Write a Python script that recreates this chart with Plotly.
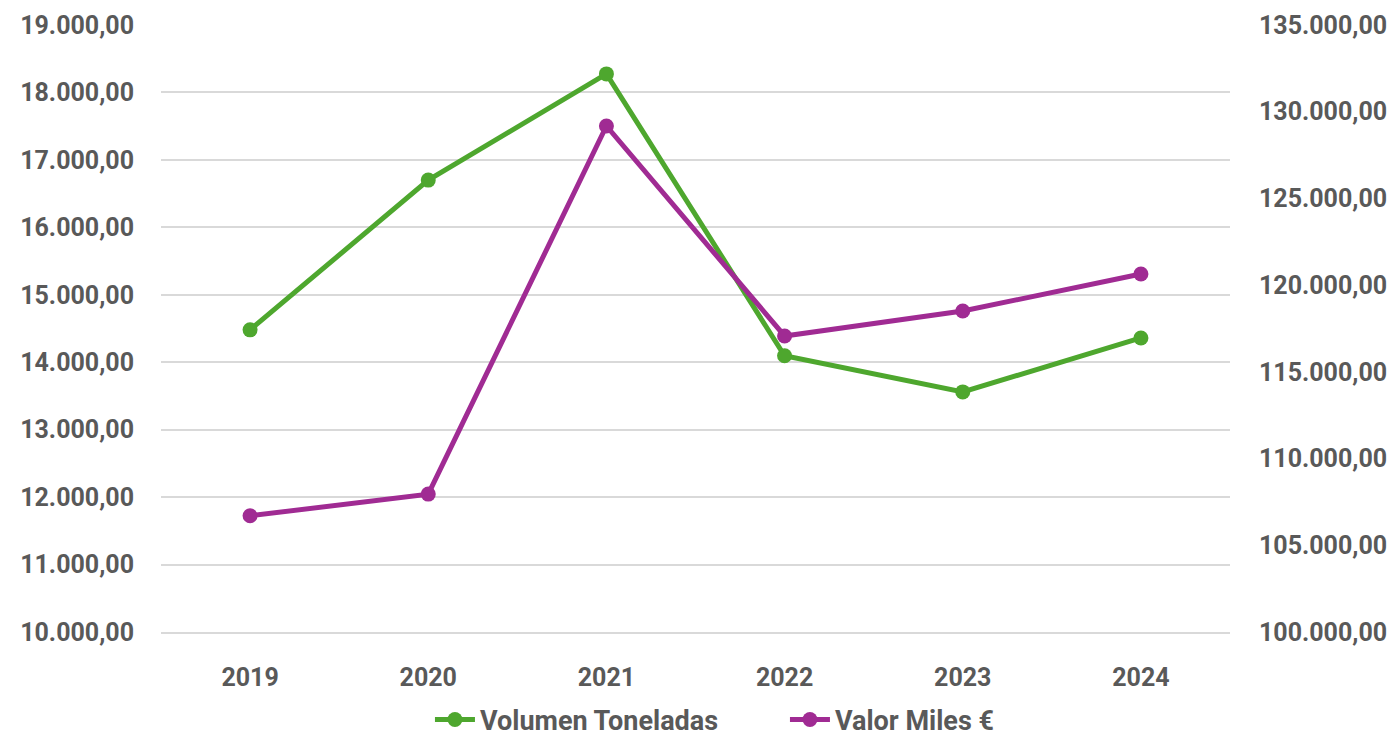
import plotly.graph_objects as go

years = ["2019", "2020", "2021", "2022", "2023", "2024"]
volumen_toneladas = [14480, 16700, 18275, 14095, 13560, 14360]
valor_miles_eur = [106700, 107950, 129180, 117070, 118510, 120640]

GREEN = "#4EA72E"
PURPLE = "#A02B93"
TXT = "#595959"
GRID = "#D9D9D9"
FONT = "Roboto"
FS = 25

fig = go.Figure()
fig.add_trace(go.Scatter(
    x=years, y=volumen_toneladas, name="Volumen Toneladas", mode="lines+markers",
    line=dict(color=GREEN, width=5), marker=dict(color=GREEN, size=15), yaxis="y"))
fig.add_trace(go.Scatter(
    x=years, y=valor_miles_eur, name="Valor Miles €", mode="lines+markers",
    line=dict(color=PURPLE, width=5), marker=dict(color=PURPLE, size=15), yaxis="y2"))

tf = dict(family=FONT, size=FS, color=TXT, weight="bold")
fig.update_layout(
    width=1389, height=730,
    margin=dict(l=153, r=167, t=17, b=106, autoexpand=False),
    paper_bgcolor="white", plot_bgcolor="white",
    separators=",.",
    font=dict(family=FONT, color=TXT, size=FS),
    xaxis=dict(type="category", range=[-0.5, 5.5], showgrid=False, showline=True,
               linecolor=GRID, linewidth=2,
               zeroline=False, ticks="", tickfont=tf, ticklabelstandoff=22, automargin=False),
    yaxis=dict(range=[10000, 19000], dtick=1000, tickformat=",.2f", showgrid=True,
               gridcolor=GRID, gridwidth=2, zeroline=False, showline=False, ticks="",
               tickfont=tf, ticklabelstandoff=26, automargin=False),
    yaxis2=dict(range=[100000, 135000], dtick=5000, tickformat=",.2f", overlaying="y",
                side="right", showgrid=False, zeroline=False, showline=False, ticks="",
                tickfont=tf, ticklabelstandoff=28, automargin=False),
    legend=dict(orientation="h", x=0.2516, xanchor="left", y=-0.145, yanchor="middle",
                font=dict(family=FONT, size=27, color=TXT, weight="bold"),
                entrywidth=300, itemwidth=40),
    showlegend=True,
)

fig.write_html("out.html")
